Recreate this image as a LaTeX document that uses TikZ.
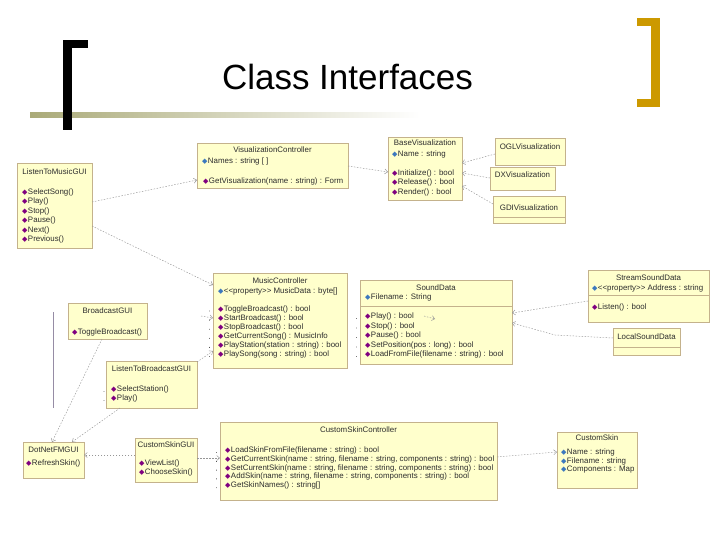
\documentclass[tikz,border=0pt]{standalone}
\usepackage{fontspec}
\setmainfont{Liberation Sans}
\newfontfamily\symf{DejaVu Sans}
\usetikzlibrary{arrows.meta,calc}
\definecolor{boxfill}{RGB}{255,255,204}
\definecolor{boxline}{RGB}{196,178,140}
\definecolor{txt}{RGB}{45,45,45}
\definecolor{conn}{RGB}{150,150,150}
\definecolor{mcol}{RGB}{128,0,128}
\definecolor{acol}{RGB}{60,120,190}
\definecolor{goldc}{RGB}{204,153,0}
\definecolor{olivec}{RGB}{170,170,120}
\definecolor{vline}{RGB}{150,140,165}
\newcommand\mi{{\symf\fontsize{7}{7}\selectfont\textcolor{mcol}{◆}}\hspace{0.4pt}}
\newcommand\ai{{\symf\fontsize{7}{7}\selectfont\textcolor{acol}{◆}}\hspace{0.4pt}}
\newcommand\stopen{<\kern0pt<}
\newcommand\stclose{>\kern0pt>}
\tikzset{
  cls/.style={draw=boxline, fill=boxfill, line width=0.5pt, anchor=north west, inner sep=0pt, outer sep=0pt},
  ttl/.style={anchor=base, inner sep=0pt, text=txt, font=\fontsize{7.9}{9}\selectfont},
  mem/.style={anchor=base west, inner sep=0pt, text=txt, font=\fontsize{7.9}{9}\selectfont},
  sepl/.style={draw=boxline, line width=0.5pt},
  dep/.style={draw=conn, line width=0.45pt, dash pattern=on 1.5pt off 1.5pt, -{Straight Barb[length=3pt,width=5pt]}},
  vis/.style={fill=txt},
}
\begin{document}
\begin{tikzpicture}[x=1pt,y=-1pt]
\useasboundingbox[fill=white] (0,0) rectangle (720,540);
% title decorations
\shade[left color=olivec, right color=white] (30,113) rectangle (420,118);
\fill[black] (63,40) rectangle (72,130);
\fill[black] (63,40) rectangle (88,48);
\fill[goldc] (651,18) rectangle (660,107);
\fill[goldc] (637,18) rectangle (660,26);
\fill[goldc] (637,99) rectangle (660,107);
\node[font=\fontsize{35}{40}\selectfont, anchor=base, inner sep=0pt] (title) at (347.5,90) {Class Interfaces};

% ListenToMusicGUI
\node[cls, minimum width=75pt, minimum height=85pt] (lmg) at (17,163) {};
\node[ttl] (lmg-t) at (54.5,175) {ListenToMusicGUI};
\foreach \s [count=\i] in {SelectSong(), Play(), Stop(), Pause(), Next(), Previous()}
  \node[mem] (lmg-\i) at (22,{194.5+(\i-1)*9.4}) {\mi\s};

% VisualizationController
\node[cls, minimum width=151pt, minimum height=45pt] (vc) at (197,143) {};
\node[ttl] (vc-t) at (272.5,153) {VisualizationController};
\node[mem] (vc-a) at (202,163.5) {\ai Names : string [ ]};
\node[mem] (vc-m) at (203,183.5) {\mi GetVisualization(name : string) : Form};

% BaseVisualization
\node[cls, minimum width=74pt, minimum height=63pt] (bv) at (388,137) {};
\node[ttl] (bv-t) at (425,146) {BaseVisualization};
\node[mem] (bv-a) at (392,156.5) {\ai Name : string};
\foreach \s [count=\i] in {Initialize() : bool, Release() : bool, Render() : bool}
  \node[mem] (bv-\i) at (392,{175.5+(\i-1)*9.4}) {\mi\s};

% OGL / DX / GDI
\node[cls, minimum width=70pt, minimum height=27pt] (ogl) at (495,138) {};
\node[ttl] (ogl-t) at (530,149.5) {OGLVisualization};
\node[cls, minimum width=65pt, minimum height=23pt] (dx) at (490,167) {};
\node[ttl] (dx-t) at (522.5,177.5) {DXVisualization};
\node[cls, minimum width=72pt, minimum height=27pt] (gdi) at (493,196) {};
\node[ttl] (gdi-t) at (529,210.5) {GDIVisualization};
\draw[sepl] (493,217) -- (565,217);

% MusicController
\node[cls, minimum width=134pt, minimum height=95pt] (mc) at (213,273) {};
\node[ttl] (mc-t) at (280,283.5) {MusicController};
\node[mem] (mc-a) at (218,293.5) {\ai\stopen property\stclose\ MusicData : byte[]};
\foreach \s [count=\i] in {ToggleBroadcast() : bool, StartBroadcast() : bool, StopBroadcast() : bool, GetCurrentSong() : MusicInfo, PlayStation(station : string) : bool, PlaySong(song : string) : bool}
  \node[mem] (mc-\i) at (218,{311+(\i-1)*9.1}) {\mi\s};
\foreach \i in {0,...,5} \fill[vis] (209.5,{311+\i*9.1}) circle (0.45pt);

% SoundData
\node[cls, minimum width=152pt, minimum height=84pt] (sd) at (360,280) {};
\node[ttl] (sd-t) at (436,290.5) {SoundData};
\node[mem] (sd-a) at (365,299.5) {\ai Filename : String};
\draw[sepl] (360,306) -- (512,306);
\foreach \s [count=\i] in {Play() : bool, Stop() : bool, Pause() : bool, SetPosition(pos : long) : bool, LoadFromFile(filename : string) : bool}
  \node[mem] (sd-\i) at (365,{318.5+(\i-1)*9.5}) {\mi\s};
\foreach \i in {0,...,4} \fill[vis] (356.5,{318.5+\i*9.5}) circle (0.45pt);

% StreamSoundData
\node[cls, minimum width=121pt, minimum height=52pt] (ssd) at (588,270) {};
\node[ttl] (ssd-t) at (648.5,280.5) {StreamSoundData};
\node[mem] (ssd-a) at (592,290.5) {\ai\stopen property\stclose\ Address : string};
\draw[sepl] (588,295) -- (709,295);
\node[mem] (ssd-m) at (592,309.5) {\mi Listen() : bool};

% LocalSoundData
\node[cls, minimum width=67pt, minimum height=27pt] (lsd) at (613,328) {};
\node[ttl] (lsd-t) at (646.5,339.5) {LocalSoundData};
\draw[sepl] (613,347) -- (680,347);

% BroadcastGUI
\node[cls, minimum width=79pt, minimum height=36pt] (bg) at (68,303) {};
\node[ttl] (bg-t) at (107.5,313.5) {BroadcastGUI};
\node[mem] (bg-m) at (72,334.5) {\mi ToggleBroadcast()};

% ListenToBroadcastGUI
\node[cls, minimum width=91pt, minimum height=47pt] (ltb) at (106,361) {};
\node[ttl] (ltb-t) at (151.5,371.5) {ListenToBroadcastGUI};
\node[mem] (ltb-1) at (111,391.5) {\mi SelectStation()};
\node[mem] (ltb-2) at (111,400.5) {\mi Play()};
\fill[vis] (104,391.5) circle (0.45pt);
\fill[vis] (104,400.5) circle (0.45pt);

% DotNetFMGUI
\node[cls, minimum width=61pt, minimum height=36pt] (dnf) at (23,442) {};
\node[ttl] (dnf-t) at (53.5,452.5) {DotNetFMGUI};
\node[mem] (dnf-m) at (26,465.5) {\mi RefreshSkin()};

% CustomSkinGUI
\node[cls, minimum width=62pt, minimum height=44pt] (csg) at (135,438) {};
\node[ttl] (csg-t) at (166,447.5) {CustomSkinGUI};
\node[mem] (csg-1) at (139,465.5) {\mi ViewList()};
\node[mem] (csg-2) at (139,474.5) {\mi ChooseSkin()};

% CustomSkinController
\node[cls, minimum width=277pt, minimum height=78pt] (csc) at (220,422) {};
\node[ttl] (csc-t) at (358.5,432.5) {CustomSkinController};
\foreach \s [count=\i] in {LoadSkinFromFile(filename : string) : bool, {GetCurrentSkin(name : string, filename : string, components : string) : bool}, {SetCurrentSkin(name : string, filename : string, components : string) : bool}, {AddSkin(name : string, filename : string, components : string) : bool}, GetSkinNames() : string[]}
  \node[mem] (csc-\i) at (225,{452.5+(\i-1)*8.8}) {\mi\s};
\foreach \i in {0,...,4} \fill[vis] (216.5,{452.5+\i*8.8}) circle (0.45pt);

% CustomSkin
\node[cls, minimum width=80pt, minimum height=56pt] (cs) at (557,432) {};
\node[ttl] (cs-t) at (597,440.5) {CustomSkin};
\foreach \s [count=\i] in {Name : string, Filename : string, Components : Map}
  \node[mem] (cs-\i) at (561,{454.5+(\i-1)*8.5}) {\ai\s};

% stray vertical line
\draw[vline, line width=0.6pt] (53,312) -- (53,408);

% connectors
\coordinate (bgc) at (201,316);
\draw[dep] ($(lmg.north east)+(0,39)$) -- ($(vc.north west)+(0,37)$);
\draw[dep] ($(lmg.north east)+(0,63)$) -- ($(mc.north west)+(0,12)$);
\draw[dep] ($(vc.north east)+(0,23)$) -- ($(bv.north west)+(0,35)$);
\draw[dep] ($(ogl.north west)+(0,16)$) -- ($(bv.north east)+(0,26)$);
\draw[dep] ($(dx.north west)+(0,11)$) -- ($(bv.north east)+(0,36)$);
\draw[dep] ($(gdi.north west)+(0,8)$) -- ($(bv.north east)+(0,49)$);
\draw[dep] ($(ssd.north west)+(0,31)$) -- ($(sd.north east)+(0,33)$);
\draw[dep] ($(lsd.north west)+(0,10)$) -- ++(-58,-3) -- ($(sd.north east)+(0,43)$);
\draw[dep] ($(ltb.north east)+(0,1)$) -- ($(mc.north west)+(0,78)$);
\draw[dep] (bgc) -- ($(mc.north west)+(0,45)$);
\draw[dep] ($(sd.north west)+(64,36)$) -- ($(sd.north west)+(75,39)$);
\draw[dep] ($(bg.south west)+(34,0)$) -- ($(dnf.north west)+(29,0)$);
\draw[dep] ($(ltb.south west)+(14,0)$) -- ($(dnf.north west)+(49,0)$);
\draw[dep] ($(csg.north west)+(0,17)$) -- ($(dnf.north east)+(0,13)$);
\draw[dep] ($(csg.north east)+(0,20)$) -- ($(csc.north west)+(0,36)$);
\draw[dep] ($(csc.north east)+(0,35)$) -- ($(cs.north west)+(0,20)$);
\end{tikzpicture}
\end{document}
